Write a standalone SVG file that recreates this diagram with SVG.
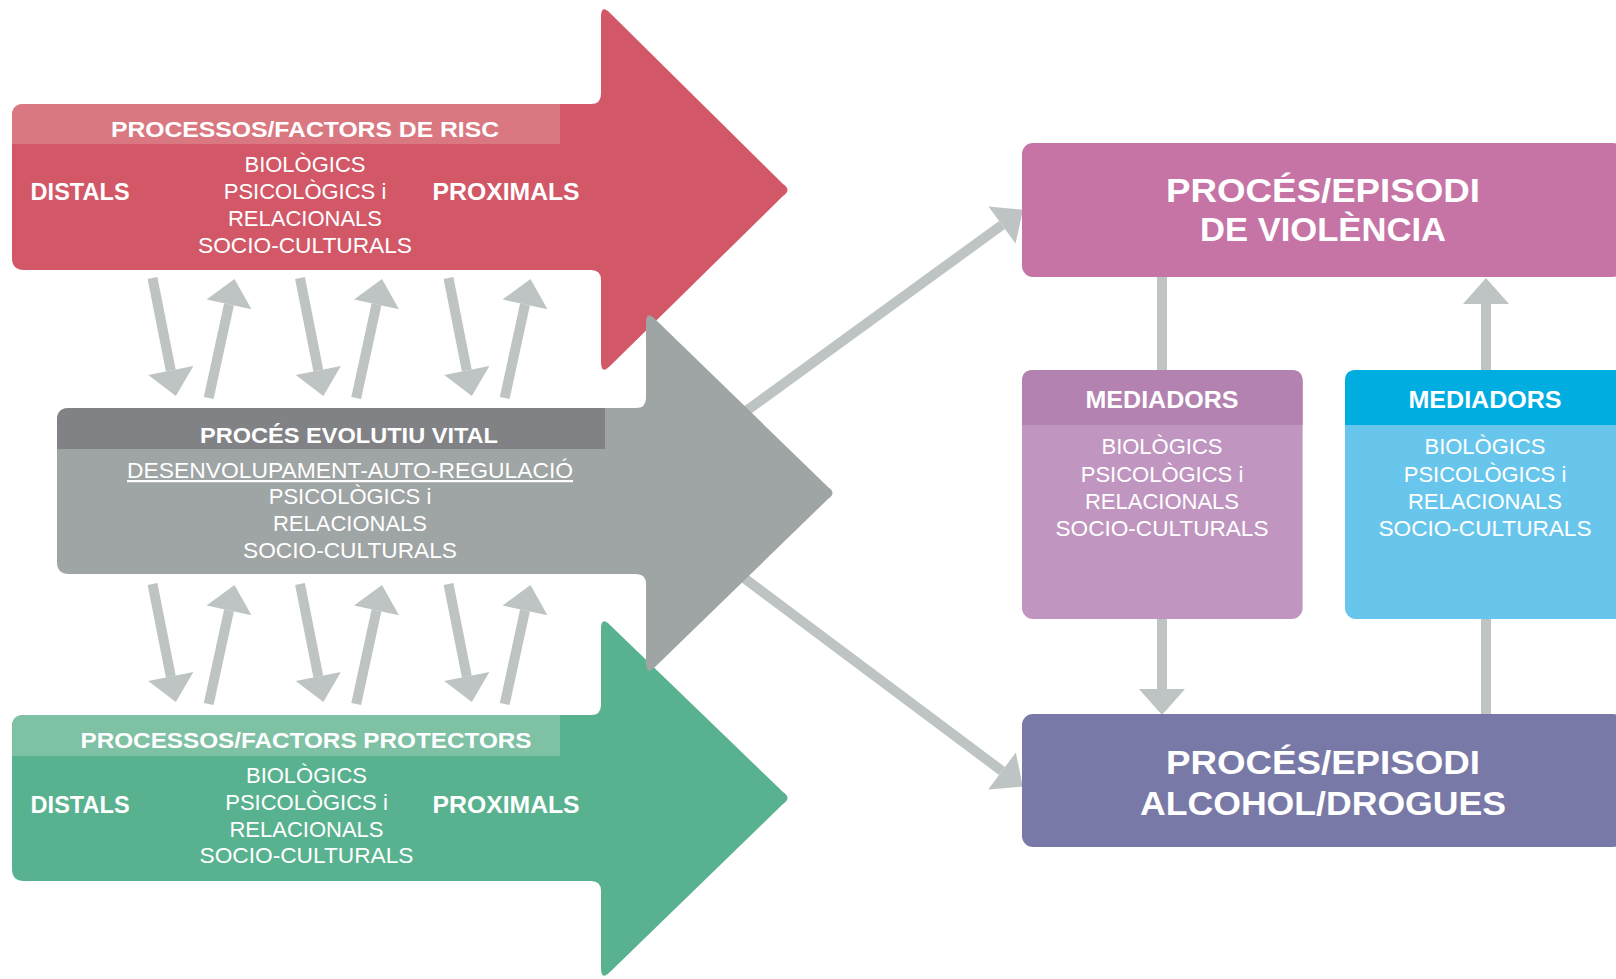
<svg xmlns="http://www.w3.org/2000/svg" width="1616" height="979" viewBox="0 0 1616 979">
<style>
.b{font-family:"Liberation Sans",Arial,sans-serif;font-weight:bold;fill:#fff}
.l{font-family:"Liberation Sans",Arial,sans-serif;font-weight:normal;fill:#fff;font-size:22px;text-anchor:middle}
.h{font-size:22px;text-anchor:middle}
.d{font-size:23px}
.big{font-size:33px;text-anchor:middle}
.med{font-size:24px;text-anchor:middle}
.c{stroke:#BEC4C3;stroke-width:10;fill:none}
.ca{stroke:#BEC4C3;stroke-width:10;fill:none;marker-end:url(#ah)}
</style>
<defs>
<marker id="ah" markerUnits="userSpaceOnUse" markerWidth="26" markerHeight="46" refX="0" refY="23" orient="auto" overflow="visible">
<path d="M0,0 L26,23 L0,46 Z" fill="#BEC4C3"/>
</marker>
</defs>
<rect width="1616" height="979" fill="#fff"/>

<g id="connectors">
<g id="small-upper">
<line class="ca" x1="152.5" y1="278" x2="170.8" y2="370.5"/>
<line class="ca" x1="208.7" y1="398" x2="229" y2="304.4"/>
<line class="ca" x1="300" y1="278" x2="318.3" y2="370.5"/>
<line class="ca" x1="356.2" y1="398" x2="376.5" y2="304.4"/>
<line class="ca" x1="448.5" y1="278" x2="466.8" y2="370.5"/>
<line class="ca" x1="504.7" y1="398" x2="525" y2="304.4"/>
</g>
<g id="small-lower" transform="translate(0,306)">
<line class="ca" x1="152.5" y1="278" x2="170.8" y2="370.5"/>
<line class="ca" x1="208.7" y1="398" x2="229" y2="304.4"/>
<line class="ca" x1="300" y1="278" x2="318.3" y2="370.5"/>
<line class="ca" x1="356.2" y1="398" x2="376.5" y2="304.4"/>
<line class="ca" x1="448.5" y1="278" x2="466.8" y2="370.5"/>
<line class="ca" x1="504.7" y1="398" x2="525" y2="304.4"/>
</g>
<line class="ca" x1="720" y1="430" x2="1002" y2="225"/>
<line class="ca" x1="720" y1="560" x2="1002" y2="771"/>
<line class="c" x1="1162" y1="276" x2="1162" y2="372"/>
<line class="ca" x1="1486" y1="372" x2="1486" y2="304"/>
<line class="ca" x1="1162" y1="617" x2="1162" y2="689"/>
<line class="c" x1="1486" y1="617" x2="1486" y2="716"/>
</g>

<g id="risc">
<path d="M12,116 Q12,104 24,104 H591 Q601,104 601,94 V17 Q601,4 610,13 L783,184 Q792,190 783,196 L610,366 Q601,375 601,362 V280 Q601,270 591,270 H24 Q12,270 12,258 Z" fill="#D25868"/>
<path d="M12,144 V116 Q12,104 24,104 H560 V144 Z" fill="#D97880"/>
<text class="b h" x="305" y="137" textLength="388" lengthAdjust="spacingAndGlyphs">PROCESSOS/FACTORS DE RISC</text>
<text class="b d" x="30.6" y="200" textLength="99" lengthAdjust="spacingAndGlyphs">DISTALS</text>
<text class="b d" x="432.6" y="200" textLength="147" lengthAdjust="spacingAndGlyphs">PROXIMALS</text>
<text class="l" x="305" y="172">BIOLÒGICS</text>
<text class="l" x="305" y="199">PSICOLÒGICS i</text>
<text class="l" x="305" y="226">RELACIONALS</text>
<text class="l" x="305" y="253" textLength="214" lengthAdjust="spacingAndGlyphs">SOCIO-CULTURALS</text>
</g>

<g id="protectors">
<path d="M12,727 Q12,715 24,715 H591 Q601,715 601,705 V629 Q601,616 610,625 L783,792 Q792,798 783,804 L610,972 Q601,981 601,968 V891 Q601,881 591,881 H24 Q12,881 12,869 Z" fill="#59B28F"/>
<path d="M12,756 V727 Q12,715 24,715 H560 V756 Z" fill="#7FC1A5"/>
<text class="b h" x="306" y="748" textLength="451" lengthAdjust="spacingAndGlyphs">PROCESSOS/FACTORS PROTECTORS</text>
<text class="b d" x="30.6" y="813" textLength="99" lengthAdjust="spacingAndGlyphs">DISTALS</text>
<text class="b d" x="432.6" y="813" textLength="147" lengthAdjust="spacingAndGlyphs">PROXIMALS</text>
<text class="l" x="306.5" y="783">BIOLÒGICS</text>
<text class="l" x="306.5" y="810">PSICOLÒGICS i</text>
<text class="l" x="306.5" y="837">RELACIONALS</text>
<text class="l" x="306.5" y="863" textLength="214" lengthAdjust="spacingAndGlyphs">SOCIO-CULTURALS</text>
</g>

<g id="evolutiu">
<path d="M57,420 Q57,408 69,408 H636 Q646,408 646,398 V323 Q646,310 655,319 L828,487 Q837,493 828,499 L655,667 Q646,676 646,663 V584 Q646,574 636,574 H69 Q57,574 57,562 Z" fill="#9FA4A4"/>
<path d="M57,449 V420 Q57,408 69,408 H605 V449 Z" fill="#818286"/>
<text class="b h" x="349" y="443" textLength="298" lengthAdjust="spacingAndGlyphs">PROCÉS EVOLUTIU VITAL</text>
<text class="l" x="350" y="478" text-decoration="underline" textLength="446" lengthAdjust="spacingAndGlyphs">DESENVOLUPAMENT-AUTO-REGULACIÓ</text>
<text class="l" x="350" y="504">PSICOLÒGICS i</text>
<text class="l" x="350" y="531">RELACIONALS</text>
<text class="l" x="350" y="558" textLength="214" lengthAdjust="spacingAndGlyphs">SOCIO-CULTURALS</text>
</g>

<g id="violencia">
<rect x="1022" y="143" width="602" height="134" rx="11" fill="#C674A6"/>
<text class="b big" x="1323" y="202" textLength="314" lengthAdjust="spacingAndGlyphs">PROCÉS/EPISODI</text>
<text class="b big" x="1323" y="241" textLength="246" lengthAdjust="spacingAndGlyphs">DE VIOLÈNCIA</text>
</g>

<g id="mediadors-1">
<rect x="1022" y="370" width="280.6" height="249" rx="11" fill="#C096C1"/>
<path d="M1022,425 V381 Q1022,370 1033,370 H1291.6 Q1302.6,370 1302.6,381 V425 Z" fill="#B482B1"/>
<text class="b med" x="1162" y="408" textLength="153" lengthAdjust="spacingAndGlyphs">MEDIADORS</text>
<text class="l" x="1162" y="454">BIOLÒGICS</text>
<text class="l" x="1162" y="482">PSICOLÒGICS i</text>
<text class="l" x="1162" y="509">RELACIONALS</text>
<text class="l" x="1162" y="536" textLength="213" lengthAdjust="spacingAndGlyphs">SOCIO-CULTURALS</text>
</g>

<g id="mediadors-2">
<rect x="1345" y="370" width="280" height="249" rx="11" fill="#68C6EC"/>
<path d="M1345,425 V381 Q1345,370 1356,370 H1614 Q1625,370 1625,381 V425 Z" fill="#00ADE1"/>
<text class="b med" x="1485" y="408" textLength="153" lengthAdjust="spacingAndGlyphs">MEDIADORS</text>
<text class="l" x="1485" y="454">BIOLÒGICS</text>
<text class="l" x="1485" y="482">PSICOLÒGICS i</text>
<text class="l" x="1485" y="509">RELACIONALS</text>
<text class="l" x="1485" y="536" textLength="213" lengthAdjust="spacingAndGlyphs">SOCIO-CULTURALS</text>
</g>

<g id="drogues">
<rect x="1022" y="714" width="602" height="133" rx="11" fill="#7879A6"/>
<text class="b big" x="1323" y="774" textLength="314" lengthAdjust="spacingAndGlyphs">PROCÉS/EPISODI</text>
<text class="b big" x="1323" y="815" textLength="366" lengthAdjust="spacingAndGlyphs">ALCOHOL/DROGUES</text>
</g>
</svg>
